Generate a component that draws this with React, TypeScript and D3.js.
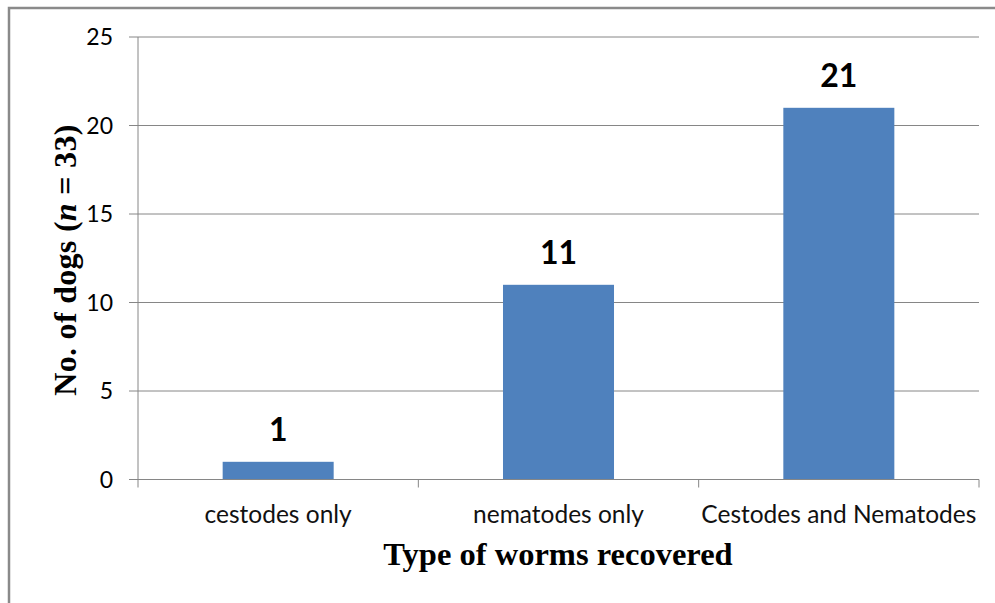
import React, { useEffect, useRef } from 'react';
import * as d3 from 'd3';

const categories = ['cestodes only', 'nematodes only', 'Cestodes and Nematodes'];
const dogCounts = [1, 11, 21];
const yTicks = [0, 5, 10, 15, 20, 25];

const W = 995;
const H = 603;

export default function App() {
  const ref = useRef<SVGSVGElement>(null);

  useEffect(() => {
    const svg = d3.select(ref.current);
    svg.selectAll('*').remove();

    const left = 138, right = 979, top = 37, bottom = 479.5;
    const x = d3.scaleBand<string>().domain(categories).range([left, right]).paddingInner(0.604).paddingOuter(0.302);
    const xc = d3.scaleBand<string>().domain(categories).range([left, right]);
    const y = d3.scaleLinear().domain([0, 25]).range([bottom, top]);
    const grey = '#868686';

    // outer frame
    svg.append('path').attr('d', `M9,${H + 5}V8H${W + 5}`).attr('fill', 'none').attr('stroke', '#8a8a8a').attr('stroke-width', 2.5);

    // gridlines
    svg.append('g').selectAll('line').data(yTicks.filter(d => d > 0)).join('line')
      .attr('x1', left).attr('x2', right)
      .attr('y1', d => y(d)).attr('y2', d => y(d))
      .attr('stroke', grey).attr('stroke-width', 1);

    // y axis
    const ya = svg.append('g');
    ya.append('line').attr('x1', left).attr('x2', left).attr('y1', top).attr('y2', bottom).attr('stroke', grey);
    ya.selectAll('.tk').data(yTicks).join('line').attr('class', 'tk')
      .attr('x1', left - 9).attr('x2', left).attr('y1', d => y(d)).attr('y2', d => y(d)).attr('stroke', grey);
    ya.selectAll('text').data(yTicks).join('text')
      .attr('x', 113).attr('y', d => y(d)).attr('dy', '0.36em')
      .attr('text-anchor', 'end').attr('font-family', 'Lato, sans-serif').attr('font-size', 23)
      .text(d => d);

    // bars
    svg.append('g').selectAll('rect').data(categories).join('rect')
      .attr('x', d => x(d)!).attr('width', x.bandwidth())
      .attr('y', (d, i) => y(dogCounts[i])).attr('height', (d, i) => bottom - y(dogCounts[i]))
      .attr('fill', '#4F81BD');

    // x axis
    const xa = svg.append('g');
    xa.append('line').attr('x1', left).attr('x2', right).attr('y1', bottom).attr('y2', bottom).attr('stroke', grey);
    const bounds = [left, ...categories.map(c => xc(c)! + xc.bandwidth())];
    xa.selectAll('.tk').data(bounds).join('line').attr('class', 'tk')
      .attr('x1', d => d).attr('x2', d => d).attr('y1', bottom).attr('y2', bottom + 8).attr('stroke', grey);
    xa.selectAll('text').data(categories).join('text')
      .attr('x', d => xc(d)! + xc.bandwidth() / 2).attr('y', 523)
      .attr('text-anchor', 'middle').attr('font-family', 'Lato, sans-serif').attr('font-size', 24.5)
      .attr('fill', '#111')
      .text(d => d);

    // data labels
    svg.append('g').selectAll('text').data(categories).join('text')
      .attr('x', d => x(d)! + x.bandwidth() / 2).attr('y', (d, i) => y(dogCounts[i]) - 21)
      .attr('text-anchor', 'middle').attr('font-family', 'Lato, sans-serif').attr('font-weight', 'bold').attr('font-size', 32)
      .text((d, i) => dogCounts[i]);

    // axis titles
    svg.append('text').attr('x', 558).attr('y', 565).attr('text-anchor', 'middle')
      .attr('font-family', '"Liberation Serif", serif').attr('font-weight', 'bold').attr('font-size', 32.5)
      .text('Type of worms recovered');
    const yt = svg.append('text').attr('transform', 'translate(76,260) rotate(-90)').attr('text-anchor', 'middle')
      .attr('font-family', '"Liberation Serif", serif').attr('font-weight', 'bold').attr('font-size', 32)
      .attr('letter-spacing', 0.3);
    yt.append('tspan').text('No. of dogs (');
    yt.append('tspan').attr('font-style', 'italic').text('n');
    yt.append('tspan').text(' = 33)');
  }, []);

  return (
    <svg ref={ref} width={W} height={H} style={{ position: 'absolute', left: 0, top: 0, background: '#fff' }} />
  );
}
